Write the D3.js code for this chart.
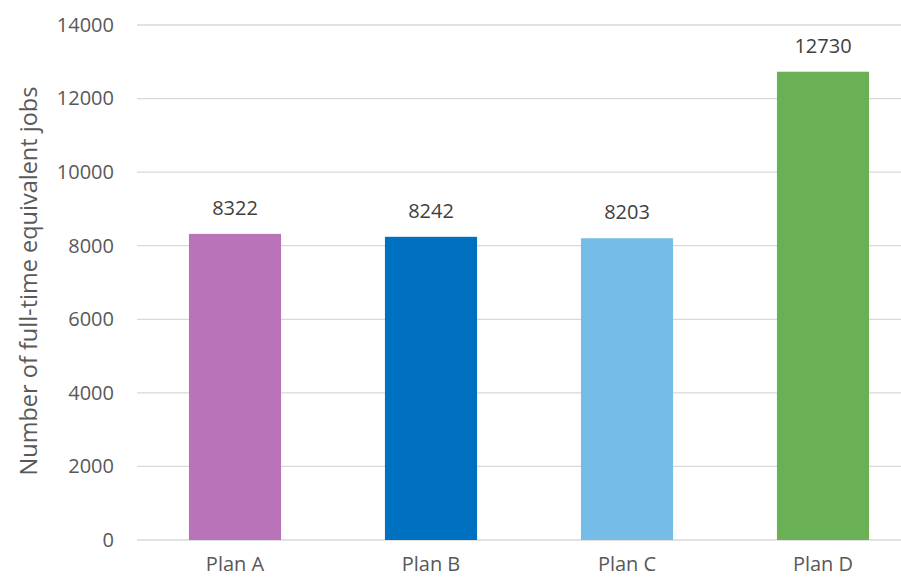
<!DOCTYPE html>
<html><head><meta charset="utf-8">
<script src="https://cdn.jsdelivr.net/npm/d3@7"></script>
<style>body{margin:0;background:#fff;} svg{display:block;font-family:"Open Sans","Noto Sans",sans-serif;}</style>
</head><body>
<svg id="c" width="901" height="579"></svg>
<script>
const categories = ["Plan A","Plan B","Plan C","Plan D"];
const values = [8322, 8242, 8203, 12730];
const colors = ["#B973B8","#0070C0","#75BDE8","#6AB055"];
const yTicks = [0,2000,4000,6000,8000,10000,12000,14000];
const yTitle = "Number of full-time equivalent jobs";

const svg = d3.select("#c");
const x = d3.scaleBand().domain(categories).range([137,921]).paddingInner(0.53).paddingOuter(0.265);
const y = d3.scaleLinear().domain([0,14000]).range([540,25]);

// gridlines
svg.append("g").selectAll("line").data(yTicks).join("line")
  .attr("x1",137).attr("x2",901)
  .attr("y1",d=>y(d)).attr("y2",d=>y(d))
  .attr("stroke","#d9d9d9").attr("stroke-width",1.3);

// y axis labels
const ya = svg.append("g").attr("transform","translate(114,0)")
  .call(d3.axisLeft(y).tickValues(yTicks).tickSize(0).tickPadding(0).tickFormat(d3.format("d")));
ya.select(".domain").remove();
ya.selectAll("text").attr("font-size",20).attr("fill","#595959").attr("font-family","Open Sans, sans-serif");

// bars
svg.append("g").selectAll("rect").data(values).join("rect")
  .attr("x",(d,i)=>x(categories[i])).attr("width",x.bandwidth())
  .attr("y",d=>y(d)).attr("height",d=>y(0)-y(d))
  .attr("fill",(d,i)=>colors[i]);

// data labels
svg.append("g").selectAll("text").data(values).join("text")
  .attr("x",(d,i)=>x(categories[i])+x.bandwidth()/2)
  .attr("y",d=>y(d)-19)
  .attr("text-anchor","middle").attr("font-size",20).attr("fill","#404040")
  .text(d=>d);

// x axis labels
const xa = svg.append("g").attr("transform","translate(0,540)")
  .call(d3.axisBottom(x).tickSize(0).tickPadding(17));
xa.select(".domain").remove();
xa.selectAll("text").attr("font-size",20).attr("fill","#595959").attr("font-family","Open Sans, sans-serif");

// y title
svg.append("text").attr("transform","translate(37,281) rotate(-90)")
  .attr("text-anchor","middle").attr("font-size",23.5).attr("fill","#595959")
  .text(yTitle);
</script>
</body></html>
